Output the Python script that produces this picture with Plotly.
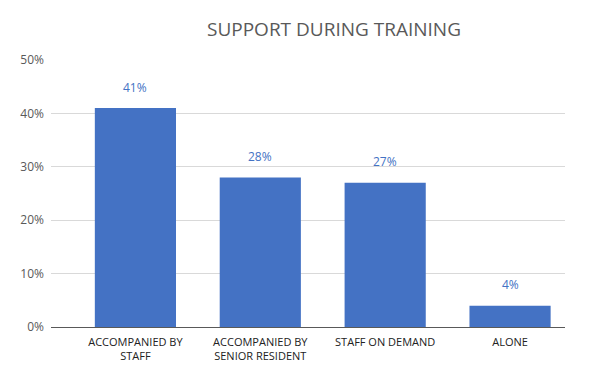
import plotly.graph_objects as go

categories = ["ACCOMPANIED BY<br>STAFF", "ACCOMPANIED BY<br>SENIOR RESIDENT", "STAFF ON DEMAND", "ALONE"]
values = [41, 28, 27, 4]
label_text = ["41%", "28%", "27%", "4%"]
y_ticks = [0, 10, 20, 30, 40, 50]
y_tick_labels = ["0%", "10%", "20%", "30%", "40%", "50%"]

xs = list(range(len(categories)))

# page has an 8px body margin, so the figure is sized/offset to compensate
W, H = 607, 372

fig = go.Figure()
fig.add_trace(go.Bar(
    x=xs, y=values, width=0.65,
    marker=dict(color="#4472C4", line=dict(width=0)),
    hoverinfo="skip",
))

for x, v, t in zip(xs, values, label_text):
    fig.add_annotation(x=x, y=v, text=t, showarrow=False, yshift=21,
                       font=dict(family="Open Sans, Liberation Sans, sans-serif", size=12, color="#4472C4"))

fig.update_layout(
    width=W, height=H,
    margin=dict(l=40, r=50, t=52, b=53),
    paper_bgcolor="white", plot_bgcolor="white",
    showlegend=False,
    title=dict(text="SUPPORT DURING TRAINING", x=326/W, xanchor="center", y=1 - 21/H, yanchor="middle",
               font=dict(family="Open Sans, Liberation Sans, sans-serif", size=19, color="#595959")),
    xaxis=dict(range=[-0.676, 3.44], tickvals=xs, ticktext=categories, showgrid=False,
               zeroline=False, showline=False, ticks="", ticklabelstandoff=7,
               tickfont=dict(family="Open Sans, Liberation Sans, sans-serif", size=11, color="#222222")),
    yaxis=dict(range=[0, 50], tickvals=y_ticks, ticktext=y_tick_labels, showgrid=True,
               gridcolor="#d9d9d9", gridwidth=1, zeroline=True, zerolinecolor="#595959", zerolinewidth=1,
               showline=False, ticks="", ticklabelstandoff=6,
               tickfont=dict(family="Open Sans, Liberation Sans, sans-serif", size=12, color="#595959")),
)

fig.write_html("out.html")
